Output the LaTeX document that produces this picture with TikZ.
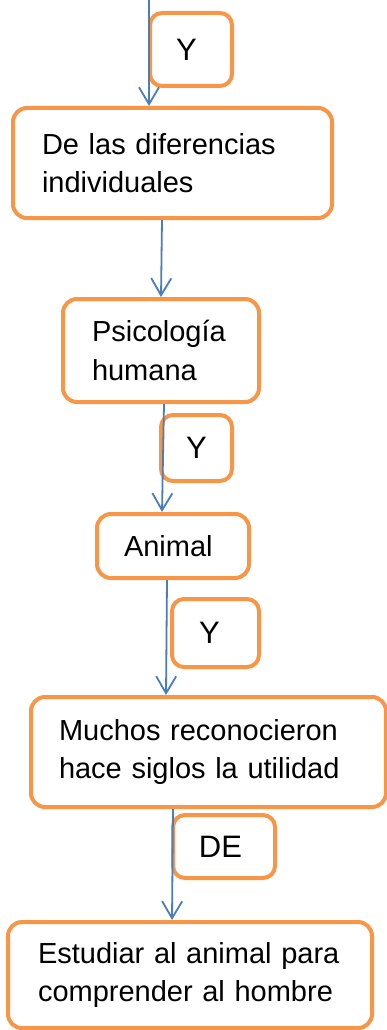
\documentclass[tikz,border=0pt]{standalone}
\usepackage{fontspec}
\setmainfont{Liberation Sans}
\usetikzlibrary{arrows.meta}
\definecolor{boxorange}{HTML}{F79646}
\definecolor{arrowblue}{HTML}{4A7EBB}
\newcommand{\shiftleft}[2]{\kern-#1pt #2\kern#1pt}
\begin{document}
\begin{tikzpicture}[x=1pt,y=-1pt,
  box/.style={draw=boxorange, line width=4pt, rounded corners=14pt, fill=white,
    align=left, inner ysep=0pt, anchor=center, font=\fontsize{29}{38.5}\selectfont},
  conj/.style={draw=boxorange, line width=4pt, rounded corners=12pt, fill=white,
    inner sep=0pt, anchor=center, font=\fontsize{31}{36}\selectfont},
  link/.style={draw=arrowblue, line width=1.8pt, -{Straight Barb[length=17pt,width=20pt]}}]
\useasboundingbox (0,0) rectangle (387,1030);
\fill[white] (0,0) rectangle (387,1030);

\node[conj, minimum width=82pt, minimum height=73pt] (y1) at (191,49.5) {\shiftleft{4.5}{Y}};
\node[box, inner xsep=29pt, text width=261pt, minimum height=110pt] (b1) at (172.5,163)
  {De las diferencias\\individuales};
\node[box, inner xsep=29pt, text width=138pt, minimum height=103pt] (b2) at (161,350.5)
  {Psicología\\humana};
\node[conj, minimum width=71pt, minimum height=66pt] (y2) at (196.5,448) {Y};
\node[box, inner xsep=27pt, text width=98pt, minimum height=64pt] (b3) at (173,546)
  {Animal};
\node[conj, minimum width=87pt, minimum height=68pt] (y3) at (215.5,633) {\shiftleft{6}{Y}};
\node[box, inner xsep=28pt, text width=299pt, minimum height=110pt] (b4) at (208.5,752)
  {Muchos reconocieron\\hace siglos la utilidad};
\node[conj, minimum width=102pt, minimum height=63pt] (de) at (224,846.5) {\shiftleft{3.5}{DE}};
\node[box, inner xsep=30pt, text width=304pt, minimum height=106pt] (b5) at (190,975)
  {Estudiar al animal para\\comprender al hombre};

\coordinate (top) at (149,0);
\draw[link] (top) -- (top |- b1.north);
\draw[link] ([xshift=-10.5pt]b1.south) -- (b2.north);
\draw[link] ([xshift=3pt]b2.south) -- ([xshift=-11pt]b3.north);
\draw[link] ([xshift=-6pt]b3.south) -- ([xshift=-42.5pt]b4.north);
\draw[link] ([xshift=-35.5pt]b4.south) -- ([xshift=-18pt]b5.north);
\end{tikzpicture}
\end{document}
